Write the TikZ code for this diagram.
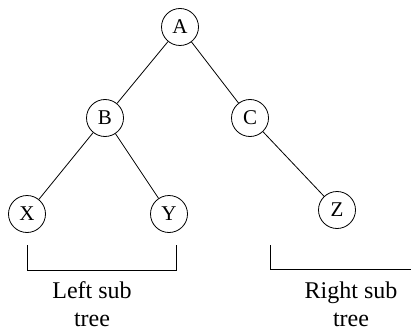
\documentclass[tikz,border=0pt]{standalone}
\usepackage{fontspec}
\setmainfont{Liberation Serif}
\begin{document}
\begin{tikzpicture}[x=1pt,y=-1pt,
  tn/.style={draw,circle,minimum size=37pt,inner sep=0pt,line width=0.8pt,font=\fontsize{21}{21}\selectfont},
  edge/.style={line width=0.8pt},
  lbl/.style={align=center,font=\fontsize{24}{28}\selectfont,inner sep=0pt}]
\useasboundingbox (0,0) rectangle (411,331);
\node[tn] (A) at (180,27) {A};
\node[tn] (B) at (105,118) {B};
\node[tn] (C) at (250,118) {C};
\node[tn] (X) at (27,214) {X};
\node[tn] (Y) at (169,214) {Y};
\node[tn] (Z) at (337,210) {Z};
\draw[edge] (A) -- (B);
\draw[edge] (A) -- (C);
\draw[edge] (B) -- (X);
\draw[edge] (B) -- (Y);
\draw[edge] (C) -- (Z);
\coordinate (l1) at (27,245);
\coordinate (l2) at (27,270);
\coordinate (l3) at (176,270);
\coordinate (l4) at (176,245);
\draw[edge] (l1) -- (l2) -- (l3) -- (l4);
\coordinate (r1) at (270,245);
\coordinate (r2) at (270,269);
\coordinate (r3) at (411,269);
\draw[edge] (r1) -- (r2) -- (r3);
\node[lbl] (lt) at (92,304) {Left sub\\tree};
\node[lbl] (rt) at (351,304) {Right sub\\tree};
\end{tikzpicture}
\end{document}
